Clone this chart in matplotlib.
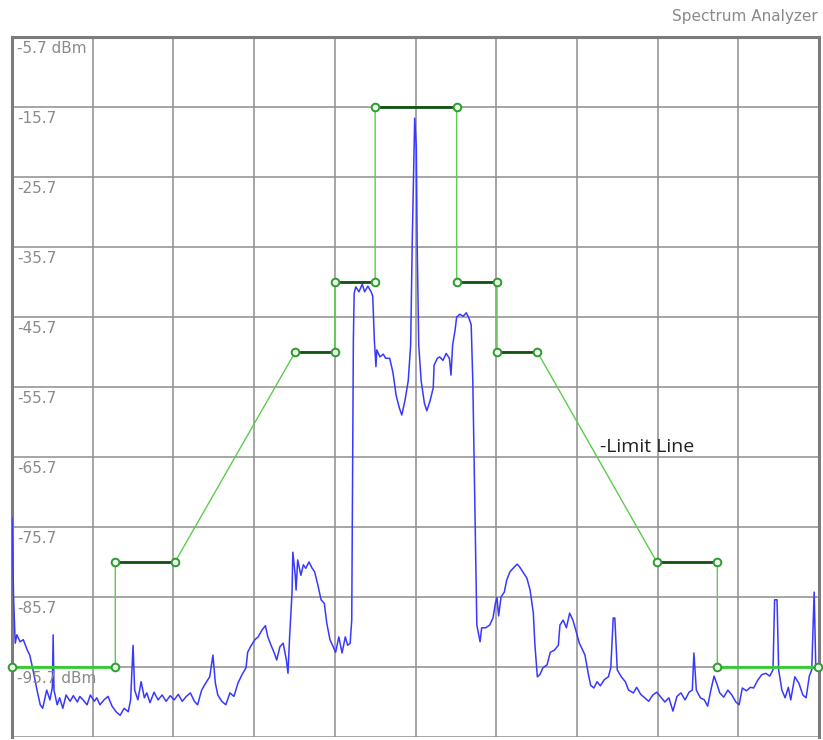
import numpy as np
import matplotlib
matplotlib.use('Agg')
import matplotlib.pyplot as plt

# y axis: reference level and scale (dBm)
ref_level = -5.7
db_per_div = 10.0
n_div = 10

# limit line corners (x in screen divisions, y in dBm)
limit_x = [0.0, 1.28, 1.28, 2.02, 3.51, 4.0, 4.0, 4.5, 4.5, 5.51, 5.51, 6.01, 6.01, 6.51, 7.99, 8.74, 8.74, 9.99]
limit_y = [-95.7, -95.7, -80.7, -80.7, -50.7, -50.7, -40.7, -40.7, -15.7, -15.7, -40.7, -40.7, -50.7, -50.7, -80.7, -80.7, -95.7, -95.7]

trace_x = [0.0, 0.01, 0.02, 0.04, 0.06, 0.10, 0.14, 0.19, 0.22, 0.26, 0.31, 0.35, 0.38, 0.43, 0.47, 0.50, 0.51, 0.52,
           0.56, 0.59, 0.63, 0.67, 0.72, 0.76, 0.81, 0.84, 0.88, 0.93, 0.97, 1.02, 1.05, 1.09, 1.14, 1.19, 1.24, 1.29,
           1.34, 1.39, 1.44, 1.47, 1.50, 1.52, 1.56, 1.60, 1.64, 1.67, 1.71, 1.76, 1.81, 1.86, 1.91, 1.96, 2.01, 2.06,
           2.11, 2.16, 2.21, 2.26, 2.30, 2.35, 2.40, 2.45, 2.49, 2.52, 2.55, 2.60, 2.65, 2.70, 2.75, 2.80, 2.85, 2.90,
           2.92, 2.96, 3.01, 3.05, 3.10, 3.14, 3.17, 3.21, 3.25, 3.28, 3.32, 3.36, 3.40, 3.42, 3.44, 3.47, 3.48, 3.51,
           3.52, 3.54, 3.58, 3.61, 3.64, 3.68, 3.72, 3.75, 3.79, 3.83, 3.87, 3.90, 3.94, 3.98, 4.01, 4.05, 4.09, 4.13,
           4.16, 4.19, 4.21, 4.23, 4.24, 4.26, 4.30, 4.34, 4.37, 4.41, 4.45, 4.47, 4.49, 4.51, 4.52, 4.56, 4.60, 4.63,
           4.68, 4.72, 4.76, 4.80, 4.83, 4.87, 4.91, 4.94, 4.96, 4.98, 4.99, 5.01, 5.02, 5.04, 5.07, 5.11, 5.14, 5.18,
           5.22, 5.23, 5.27, 5.30, 5.34, 5.38, 5.42, 5.44, 5.46, 5.49, 5.51, 5.55, 5.59, 5.63, 5.66, 5.69, 5.71, 5.76,
           5.80, 5.82, 5.87, 5.92, 5.96, 5.99, 6.01, 6.03, 6.06, 6.10, 6.13, 6.17, 6.21, 6.26, 6.29, 6.33, 6.38, 6.42,
           6.46, 6.48, 6.51, 6.54, 6.58, 6.63, 6.67, 6.72, 6.77, 6.79, 6.83, 6.87, 6.91, 6.95, 6.99, 7.03, 7.06, 7.10,
           7.14, 7.17, 7.21, 7.25, 7.29, 7.34, 7.39, 7.42, 7.45, 7.47, 7.50, 7.55, 7.60, 7.64, 7.70, 7.74, 7.79, 7.84,
           7.89, 7.94, 7.99, 8.04, 8.09, 8.14, 8.19, 8.24, 8.29, 8.34, 8.39, 8.43, 8.45, 8.48, 8.53, 8.58, 8.62, 8.66,
           8.70, 8.74, 8.77, 8.82, 8.87, 8.92, 8.97, 9.01, 9.05, 9.10, 9.15, 9.19, 9.24, 9.29, 9.34, 9.39, 9.43, 9.45,
           9.48, 9.50, 9.54, 9.58, 9.62, 9.65, 9.70, 9.75, 9.80, 9.84, 9.88, 9.91, 9.94, 9.96]
trace_dbm = [-74.4, -80.4, -86.1, -92.3, -91.1, -92.1, -91.8, -93.3, -94.0, -96.1, -99.0, -101.1, -101.6, -99.0, -100.4,
             -98.6, -91.1, -99.0, -101.1, -100.1, -101.6, -99.7, -100.6, -99.8, -100.7, -99.9, -100.4, -101.1, -99.7,
             -100.6, -100.1, -101.1, -100.4, -99.9, -101.3, -102.1, -102.6, -101.6, -102.1, -100.4, -92.6, -99.0,
             -100.4, -97.8, -100.1, -99.4, -100.8, -99.3, -100.4, -99.7, -100.6, -99.8, -100.4, -99.6, -100.6, -99.9,
             -99.4, -100.6, -101.1, -99.0, -98.0, -97.1, -94.0, -98.0, -99.7, -100.6, -101.1, -99.4, -99.9, -98.0,
             -96.8, -95.8, -93.6, -92.7, -91.8, -91.4, -90.4, -89.8, -91.4, -92.6, -93.7, -94.7, -92.8, -92.3, -94.7,
             -96.6, -91.4, -85.1, -79.3, -82.6, -84.7, -80.4, -82.6, -81.1, -81.6, -80.7, -81.6, -82.1, -84.0, -86.1,
             -86.6, -89.4, -91.8, -92.8, -93.6, -91.4, -93.7, -91.4, -92.6, -92.3, -89.0, -49.0, -42.3, -41.4, -42.1,
             -41.0, -42.1, -41.3, -42.1, -42.7, -49.0, -52.8, -50.4, -51.4, -51.0, -51.6, -51.6, -53.6, -56.9, -58.7,
             -59.7, -57.6, -54.8, -49.7, -34.7, -23.3, -17.3, -21.4, -34.7, -49.7, -54.8, -58.0, -59.1, -57.7, -55.8,
             -52.6, -51.6, -51.4, -51.9, -50.9, -51.6, -54.0, -49.7, -47.6, -45.7, -45.3, -45.6, -45.1, -45.8, -46.8,
             -54.8, -89.7, -92.1, -90.1, -90.1, -89.7, -88.7, -86.6, -85.8, -88.4, -85.7, -85.0, -83.3, -82.1, -81.6,
             -81.0, -81.4, -82.1, -83.0, -84.7, -88.0, -92.6, -97.1, -96.8, -95.8, -95.4, -93.6, -93.3, -92.6, -89.7,
             -89.0, -90.1, -88.0, -89.0, -90.6, -92.3, -93.0, -94.0, -96.6, -98.3, -98.7, -97.8, -98.4, -97.5, -97.1,
             -95.8, -88.7, -88.7, -96.1, -97.1, -97.8, -99.0, -99.4, -98.6, -99.6, -100.1, -100.6, -99.7, -99.3,
             -100.0, -100.7, -100.1, -102.0, -99.9, -99.4, -100.4, -99.3, -99.0, -93.7, -99.0, -100.1, -100.4, -101.3,
             -99.0, -97.0, -98.3, -99.4, -100.0, -99.0, -99.7, -100.7, -101.1, -98.7, -99.1, -98.6, -98.7, -97.6,
             -96.8, -96.6, -97.0, -96.1, -86.1, -86.1, -96.1, -99.0, -100.1, -98.6, -100.4, -97.1, -98.0, -99.7,
             -100.1, -97.0, -96.1, -85.0, -95.7]

W, H = 823, 740
fig = plt.figure(figsize=(W / 100, H / 100), dpi=100)
fig.patch.set_facecolor('white')
ax = fig.add_axes([12 / W, 3 / H, 807 / W, 700 / H])

bottom = ref_level - n_div * db_per_div
ax.set_xlim(0, 10)
ax.set_ylim(bottom, ref_level)

# graticule
levels = [ref_level - i * db_per_div for i in range(n_div + 1)]
ax.set_xticks(np.arange(0, 11))
ax.set_yticks(levels)
ax.grid(True, color='#8e8e8e', linewidth=1.1)
ax.tick_params(left=False, bottom=False, labelleft=False, labelbottom=False)
for side in ['left', 'top', 'right']:
    ax.spines[side].set_color('#7c7c7c')
    ax.spines[side].set_linewidth(2.2)
ax.spines['bottom'].set_visible(False)

# trace
ax.plot(trace_x, trace_dbm, color='#3838ff', linewidth=1.1, zorder=3)

# limit line: thin connecting segments, then the flat parts drawn heavier
ax.plot(limit_x, limit_y, color='#5ccc4c', linewidth=1.0, zorder=4)
for i in range(len(limit_x) - 1):
    if limit_y[i] == limit_y[i + 1]:
        col = '#33cc33' if limit_y[i] == -95.7 else '#145214'
        ax.plot(limit_x[i:i + 2], limit_y[i:i + 2], color=col, linewidth=2.0, zorder=5)
ax.plot(limit_x, limit_y, linestyle='none', marker='o', markersize=5.5,
        markeredgewidth=1.4, markeredgecolor='#2f9a2f', markerfacecolor='#eaffea', zorder=6, clip_on=False)

# level labels
for i, lv in enumerate(levels[:-1]):
    if i == 0 or i == len(levels) - 2:
        txt = '%.1f dBm' % lv
    else:
        txt = '%.1f' % lv
    ax.annotate(txt, xy=(0, lv), xycoords=('axes fraction', 'data'),
                xytext=(5, -4), textcoords='offset pixels',
                ha='left', va='top', fontsize=11, color='#8a8a8a', zorder=7)

ax.text(7.29, -64.3, '-Limit Line', fontsize=14, color='#222222', family='Open Sans',
        va='center', ha='left', zorder=7)

fig.text(818 / W, 1 - 16 / H, 'Spectrum Analyzer', ha='right', va='center',
         fontsize=11, color='#8a8a8a')

fig.savefig('out.png', dpi=100, facecolor='white')
